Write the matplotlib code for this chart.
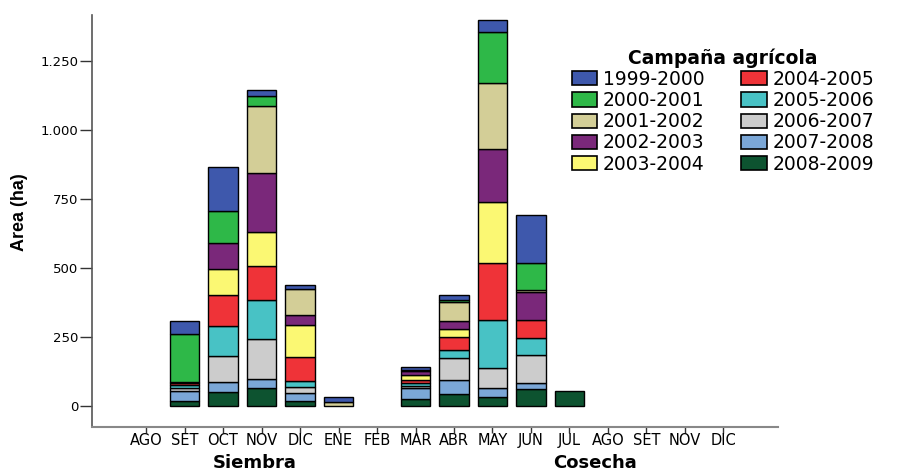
import matplotlib
matplotlib.use("Agg")
import matplotlib.pyplot as plt
import numpy as np
from matplotlib.patches import Patch

# Months of sowing (Siembra) and harvest (Cosecha)
months = ["AGO", "SET", "OCT", "NOV", "DIC", "ENE", "FEB", "MAR", "ABR",
          "MAY", "JUN", "JUL", "AGO", "SET", "NOV", "DIC"]

# Area (ha) per month for each agricultural campaign
c1999_2000 = [0, 47, 162, 22, 13, 20, 0, 11, 20, 45, 171, 0, 0, 0, 0, 0]
c2000_2001 = [0, 176, 115, 35, 0, 0, 0, 0, 6, 183, 99, 0, 0, 0, 0, 0]
c2001_2002 = [0, 0, 0, 241, 96, 12, 0, 4, 68, 241, 9, 0, 0, 0, 0, 0]
c2002_2003 = [0, 0, 94, 215, 35, 0, 0, 16, 30, 190, 101, 0, 0, 0, 0, 0]
c2003_2004 = [0, 4, 93, 124, 115, 0, 0, 18, 27, 221, 0, 0, 0, 0, 0, 0]
c2004_2005 = [0, 7, 114, 124, 89, 0, 0, 12, 49, 208, 65, 0, 0, 0, 0, 0]
c2005_2006 = [0, 9, 109, 140, 21, 0, 0, 9, 29, 175, 62, 0, 0, 0, 0, 0]
c2006_2007 = [0, 12, 94, 145, 23, 0, 0, 9, 80, 71, 101, 0, 0, 0, 0, 0]
c2007_2008 = [0, 36, 36, 34, 28, 0, 0, 40, 51, 34, 20, 0, 0, 0, 0, 0]
c2008_2009 = [0, 16, 48, 62, 16, 0, 0, 22, 41, 30, 61, 53, 0, 0, 0, 0]

campaigns = ["1999-2000", "2000-2001", "2001-2002", "2002-2003", "2003-2004",
             "2004-2005", "2005-2006", "2006-2007", "2007-2008", "2008-2009"]
series = [c1999_2000, c2000_2001, c2001_2002, c2002_2003, c2003_2004,
          c2004_2005, c2005_2006, c2006_2007, c2007_2008, c2008_2009]
colors = ["#3E58AC", "#2EB848", "#D3CE97", "#7A287A", "#FBF873",
          "#EF3338", "#48C2C5", "#CCCCCC", "#7BA7D7", "#0D5330"]

ytick_vals = [0, 250, 500, 750, 1000, 1250]
ytick_labels = ["0", "250", "500", "750", "1.000", "1.250"]

W, H = 898, 472
fig = plt.figure(figsize=(W / 100, H / 100), dpi=100)
ax = fig.add_axes([92 / W, 1 - 427 / H, (778 - 92) / W, (427 - 15) / H])

x = np.arange(len(months))
bottom = np.zeros(len(months))
# stack from the latest campaign at the bottom to the earliest on top
for name, vals, col in reversed(list(zip(campaigns, series, colors))):
    v = np.array(vals, dtype=float)
    m = v > 0
    ax.bar(x[m], v[m], bottom=bottom[m], width=0.77, color=col,
           edgecolor="black", linewidth=1.0, zorder=3)
    bottom += v

ax.set_xlim(-1.403, 16.416)
ax.set_ylim(-77.9, 1415)

ax.set_xticks(x)
ax.set_xticklabels(months, fontfamily="DejaVu Sans", fontsize=10.5)
ax.set_yticks(ytick_vals)
ax.set_yticklabels(ytick_labels, fontfamily="DejaVu Sans", fontsize=9.5)
ax.tick_params(axis="y", length=8.6, width=1.0, color="#333333", pad=1)
ax.tick_params(axis="x", length=4, width=1.0, color="#333333", pad=0.5)

for s in ("top", "right"):
    ax.spines[s].set_visible(False)
ax.spines["left"].set_color("#555555")
ax.spines["bottom"].set_color("#888888")
ax.spines["left"].set_linewidth(1.2)
ax.spines["bottom"].set_linewidth(1.5)

fig.text(20 / W, 1 - 212 / H, "Area (ha)", rotation=90, ha="center",
         va="center", fontweight="bold", fontsize=13,
         family="Liberation Sans")

fig.text(255 / W, 1 - 463 / H, "Siembra", ha="center", va="center",
         fontweight="bold", fontsize=13, family="DejaVu Sans")
fig.text(595 / W, 1 - 463 / H, "Cosecha", ha="center", va="center",
         fontweight="bold", fontsize=13, family="DejaVu Sans")

handles = [Patch(facecolor=c, edgecolor="black", linewidth=1.2) for c in colors]
leg = fig.legend(handles, campaigns, ncol=2, loc="upper left",
                 bbox_to_anchor=(572 / W, 1 - 48 / H),
                 bbox_transform=fig.transFigure, frameon=False,
                 prop={"family": "DejaVu Sans", "size": 13.5},
                 title="Campaña agrícola",
                 title_fontproperties={"family": "DejaVu Sans", "size": 13.5,
                                       "weight": "bold"},
                 handlelength=1.35, handleheight=0.78, handletextpad=0.3,
                 columnspacing=1.95, labelspacing=0.12, borderpad=0.0,
                 borderaxespad=0.0)

fig.savefig("out.png", dpi=100)
